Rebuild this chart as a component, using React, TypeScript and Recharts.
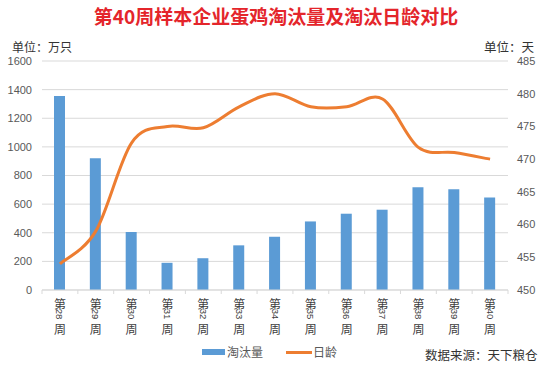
import React from "react";
import { ComposedChart, Bar, Line, XAxis, YAxis, CartesianGrid } from "recharts";

const weeks = ["28", "29", "30", "31", "32", "33", "34", "35", "36", "37", "38", "39", "40"];
const cullVolume = [1355, 920, 405, 190, 222, 312, 372, 479, 533, 561, 718, 704, 646];
const cullAge = [454, 459, 472.5, 475, 474.8, 478, 480, 478, 478, 479.2, 471.8, 471, 470];
const leftTicks = [0, 200, 400, 600, 800, 1000, 1200, 1400, 1600];
const rightTicks = [450, 455, 460, 465, 470, 475, 480, 485];

const data = weeks.map((w, i) => ({ week: w, volume: cullVolume[i], age: cullAge[i] }));

const CJK = "'Noto Sans CJK SC', 'Noto Sans', sans-serif";
const NUM = "'Liberation Sans', Arial, sans-serif";

// Catmull-Rom style smoothing (similar to Excel's smoothed line)
const smoothCurve = (context: any) => {
  let pts: [number, number][] = [];
  return {
    areaStart() {},
    areaEnd() {},
    lineStart() {
      pts = [];
    },
    point(x: number, y: number) {
      pts.push([+x, +y]);
    },
    lineEnd() {
      const n = pts.length;
      if (!n) return;
      context.moveTo(pts[0][0], pts[0][1]);
      for (let i = 0; i < n - 1; i++) {
        const p0 = pts[i - 1] || pts[i];
        const p1 = pts[i];
        const p2 = pts[i + 1];
        const p3 = pts[i + 2] || p2;
        context.bezierCurveTo(
          p1[0] + (p2[0] - p0[0]) / 6,
          p1[1] + (p2[1] - p0[1]) / 6,
          p2[0] - (p3[0] - p1[0]) / 6,
          p2[1] - (p3[1] - p1[1]) / 6,
          p2[0],
          p2[1]
        );
      }
    },
  };
};

const PLOT_LEFT = 42;
const PLOT_RIGHT = 508;
const BAND = (PLOT_RIGHT - PLOT_LEFT) / weeks.length;

const WeekTick = (props: any) => {
  const { x, y, payload, index } = props;
  const isLast = index === weeks.length - 1;
  return (
    <g>
      <line x1={x - BAND / 2} x2={x - BAND / 2} y1={y} y2={y + 4} stroke="#d9d9d9" />
      {isLast && <line x1={x + BAND / 2} x2={x + BAND / 2} y1={y} y2={y + 4} stroke="#d9d9d9" />}
      <text x={x} y={y + 13} textAnchor="middle" dominantBaseline="central" fontSize={12} fill="#404040" fontFamily={CJK}>
        第
      </text>
      <text
        transform={`translate(${x},${y + 24}) rotate(90)`}
        textAnchor="middle"
        dominantBaseline="central"
        fontSize={9.5}
        fill="#404040"
        fontFamily={NUM}
      >
        {payload.value}
      </text>
      <text x={x} y={y + 38} textAnchor="middle" dominantBaseline="central" fontSize={12} fill="#404040" fontFamily={CJK}>
        周
      </text>
    </g>
  );
};

export default function App() {
  return (
    <div style={{ position: "absolute", left: 0, top: 0, width: 550, height: 368, background: "#fff", overflow: "hidden" }}>
      <div
        style={{
          position: "absolute",
          left: 0,
          width: 552,
          top: 4,
          textAlign: "center",
          fontFamily: CJK,
          fontWeight: 700,
          fontSize: 19,
          lineHeight: "24px",
          color: "#e4252b",
        }}
      >
        第40周样本企业蛋鸡淘汰量及淘汰日龄对比
      </div>
      <div style={{ position: "absolute", left: 12, top: 38, fontFamily: CJK, fontSize: 12, lineHeight: "18px", color: "#333" }}>
        单位：万只
      </div>
      <div style={{ position: "absolute", right: 16, top: 38, fontFamily: CJK, fontSize: 12.5, lineHeight: "18px", color: "#333" }}>
        单位：天
      </div>
      <ComposedChart width={550} height={368} data={data} margin={{ top: 61, right: 0, bottom: 0, left: 0 }}>
        <CartesianGrid yAxisId="left" vertical={false} stroke="#d9d9d9" />
        <XAxis
          dataKey="week"
          height={78}
          interval={0}
          tickLine={false}
          tickSize={0}
          tickMargin={0}
          axisLine={{ stroke: "#d9d9d9" }}
          tick={<WeekTick />}
        />
        <YAxis
          yAxisId="left"
          orientation="left"
          width={42}
          domain={[0, 1600]}
          ticks={leftTicks}
          axisLine={false}
          tickLine={false}
          tickMargin={4}
          tick={{ fontSize: 11, fill: "#595959", fontFamily: NUM }}
        />
        <YAxis
          yAxisId="right"
          orientation="right"
          width={42}
          domain={[450, 485]}
          ticks={rightTicks}
          axisLine={false}
          tickLine={false}
          tickMargin={3}
          tick={{ fontSize: 11, fill: "#595959", fontFamily: NUM, textAnchor: "start" }}
        />
        <Bar yAxisId="left" dataKey="volume" fill="#5b9bd5" barSize={11} isAnimationActive={false} />
        <Line
          yAxisId="right"
          dataKey="age"
          type={smoothCurve as any}
          stroke="#ed7d31"
          strokeWidth={3}
          dot={false}
          activeDot={false}
          isAnimationActive={false}
        />
      </ComposedChart>
      <div style={{ position: "absolute", left: 202, top: 349, width: 23, height: 6, background: "#5b9bd5" }} />
      <div style={{ position: "absolute", left: 227, top: 343, fontFamily: CJK, fontSize: 12, lineHeight: "18px", color: "#595959" }}>
        淘汰量
      </div>
      <div style={{ position: "absolute", left: 286, top: 351, width: 26, height: 3, background: "#ed7d31" }} />
      <div style={{ position: "absolute", left: 313, top: 343, fontFamily: CJK, fontSize: 12, lineHeight: "18px", color: "#595959" }}>
        日龄
      </div>
      <div style={{ position: "absolute", left: 425, top: 346, fontFamily: CJK, fontSize: 12.5, lineHeight: "18px", color: "#333" }}>
        数据来源：天下粮仓
      </div>
    </div>
  );
}
